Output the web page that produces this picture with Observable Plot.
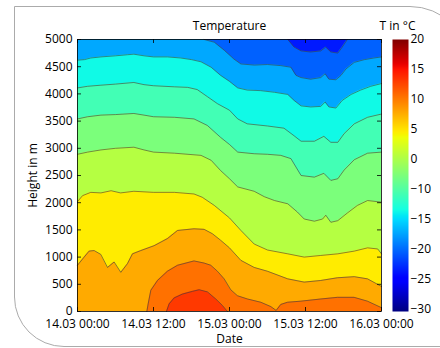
<!DOCTYPE html>
<html><head><meta charset="utf-8">
<script src="https://cdn.jsdelivr.net/npm/d3@7"></script>
<script src="https://cdn.jsdelivr.net/npm/@observablehq/plot@0.6"></script>
<style>
body{margin:0;background:#fff;}
#wrap{position:relative;width:440px;height:348px;overflow:hidden;font-family:"Open Sans",sans-serif;}
#card{position:absolute;left:14px;top:6px;width:456px;height:341px;box-sizing:border-box;border:1.5px solid #ababab;border-radius:0 60px 0 50px;}
#main,#cbar{position:absolute;top:0;}
#main{left:0}
#cbar{left:380px}
</style></head><body>
<div id="wrap"><div id="card"></div><div id="main"></div><div id="cbar"></div></div>
<script>
// ---- data ----
const title = "Temperature";
const xLabel = "Date";
const yLabel = "Height in m";
const cbTitle = "T in °C";
const xTickHours = [0, 12, 24, 36, 48];
const yTicks = [0, 500, 1000, 1500, 2000, 2500, 3000, 3500, 4000, 4500, 5000];
const cbLabels = ["20", "15", "10", "5", "0", "−10", "−15", "−20", "−25", "−30"];
const cbDomain = [-30, 20];
// fill temperature of each band, coldest (top) to warmest (bottom)
const bandTemps = [-22.5, -19, -15.5, -11.5, -8.5, -5, -1.5, 3, 6.5, 9.5, 12.5];
// isolines: [hours since 14.03 00:00, height in m]
const iso0 = [[33.2,5000],[34.2,4860],[35.3,4790],[36.8,4770],[38.4,4790],[39.2,4860],[40.0,4770],[41.1,4750],[41.8,4860],[42.6,5000]];
const iso1 = [[20.0,5000],[21.6,4950],[23.2,4800],[24.7,4640],[25.8,4550],[27.9,4530],[30.0,4540],[32.1,4520],[33.7,4490],[34.5,4340],[35.3,4300],[36.8,4270],[38.4,4300],[39.1,4370],[39.7,4270],[40.8,4260],[41.6,4340],[42.4,4460],[43.7,4580],[45.3,4630],[46.8,4660],[48,4680]];
const iso2 = [[0,4620],[1.1,4630],[2.1,4660],[3.7,4680],[6,4700],[7.9,4720],[8.9,4730],[10.5,4700],[12,4680],[14.2,4680],[16.3,4660],[18,4630],[19.5,4590],[21.1,4490],[22.6,4340],[24,4230],[25.3,4110],[26.8,4070],[28.9,4060],[31.1,4030],[33.2,3990],[34.2,3880],[35.3,3780],[36.8,3760],[38.4,3770],[39.1,3850],[39.7,3760],[40.8,3740],[41.8,3880],[43.2,3990],[44.7,4070],[46.3,4140],[48,4190]];
const iso3 = [[0,4110],[1.6,4140],[3.7,4160],[6,4180],[8.9,4210],[10.5,4170],[12,4150],[15.3,4130],[17.4,4120],[18.9,4080],[20.5,3950],[22.1,3820],[24,3700],[25.3,3540],[26.8,3450],[30,3410],[32.6,3370],[34.2,3230],[35.3,3130],[37.4,3130],[38.9,3220],[40,3110],[41.1,3110],[42.1,3270],[43.7,3450],[45.8,3570],[48,3630]];
const iso4 = [[0,3540],[1.6,3580],[3.7,3610],[6,3620],[8.9,3640],[10.5,3610],[12,3580],[15.3,3570],[18.4,3540],[20.5,3420],[22.6,3200],[24,3070],[25.3,2930],[27.9,2900],[30,2890],[32.1,2870],[33.7,2810],[35.3,2500],[37.4,2470],[38.9,2540],[40,2410],[41.1,2440],[42.1,2600],[43.7,2790],[45.8,2910],[48,2930]];
const iso5 = [[0,2890],[1.6,2930],[3.7,2970],[6,3000],[8.9,3020],[10.5,2970],[12,2930],[15.3,2910],[19.5,2870],[21.1,2780],[22.6,2590],[24,2440],[25.3,2290],[27.9,2210],[29.5,2110],[31.1,2040],[33.2,1980],[34.7,1830],[35.8,1700],[37.4,1660],[38.7,1700],[39.2,1770],[40,1640],[41.1,1670],[42.6,1810],[44.2,1950],[45.8,2040],[48,2010]];
const iso6 = [[0,2020],[0.8,2130],[2.1,2190],[3.7,2180],[5.3,2220],[6.8,2180],[8.9,2210],[12,2190],[15.3,2190],[18.4,2160],[19.7,2100],[21.6,1950],[24,1720],[25.8,1490],[27.9,1240],[30,1130],[33.2,1060],[35.8,1000],[38.4,1030],[41.1,1060],[43.7,1110],[45.8,1170],[47.4,1150],[48,1060]];
const iso7 = [[0,850],[1.05,1000],[1.84,1110],[2.63,1120],[3.68,1050],[4.74,810],[5.79,910],[6.84,720],[7.89,880],[8.68,1060],[10,1120],[12.1,1210],[14.2,1340],[15.8,1490],[18.4,1520],[20,1510],[21.3,1430],[22.6,1310],[24,1170],[25.8,940],[27.9,810],[30,740],[33.2,600],[35.8,540],[38.4,570],[41.05,620],[43.7,640],[45.8,600],[48,460]];
const iso8 = [[10.95,0],[11.16,140],[11.58,390],[12.63,570],[14.2,740],[15.8,850],[18.4,930],[20,890],[21.05,850],[22.1,740],[23.16,600],[24.2,400],[25.26,290],[26.84,230],[28.95,170],[30.53,90],[31.37,20],[32.1,130],[33.16,170],[35.26,190],[38.42,230],[41.05,260],[43.68,260],[45.79,190],[48,70]];
const iso9 = [[14.05,0],[14.47,140],[15.26,250],[16.58,320],[18.16,370],[19.21,400],[20.53,360],[21.84,230],[22.89,110],[23.68,0]];

// ---- helpers ----
const start = Date.UTC(2013, 2, 14);
const toDate = h => new Date(start + h * 3600e3);
const rows = arr => arr.map(([h, m]) => ({date: toDate(h), h: m}));
const x0 = toDate(xTickHours[0]), x1 = toDate(xTickHours[xTickHours.length - 1]);
const yMax = yTicks[yTicks.length - 1], yMin = yTicks[0];
const xTickDates = xTickHours.map(toDate);

function seg(pts, t) {
  for (let i = 1; i < pts.length; i++) {
    if (t <= pts[i][0]) {
      const [a, va] = pts[i - 1], [b, vb] = pts[i];
      return va + (vb - va) * (t - a) / (b - a);
    }
  }
  return pts[pts.length - 1][1];
}
function jet(t) {
  t = Math.max(0, Math.min(1, t));
  const r = seg([[0,0],[0.35,0],[0.66,1],[0.89,1],[1,0.5]], t);
  const g = seg([[0,0],[0.125,0],[0.375,1],[0.64,1],[0.91,0],[1,0]], t);
  const b = seg([[0,0.5],[0.11,1],[0.34,1],[0.65,0],[1,0]], t);
  return d3.rgb(r * 255, g * 255, b * 255).formatHex();
}
const colorOpts = {type: "linear", domain: cbDomain, interpolate: jet};

// plot geometry (style)
const W = 440, H = 348, mL = 77, mR = 59, mT = 39, mB = 37;
const tickPx = 4;
const tickY = tickPx * (yMax - yMin) / (H - mT - mB);
const tickX = tickPx * (x1 - x0) / (W - mL - mR);

const lineStyle = {x: "date", y: "h", stroke: "#3c3c3c", strokeWidth: 0.7, strokeOpacity: 0.85};
const warm = [iso2, iso3, iso4, iso5, iso6, iso7, iso8, iso9];

const main = Plot.plot({
  width: W, height: H,
  marginLeft: mL, marginRight: mR, marginTop: mT, marginBottom: mB,
  x: {type: "utc", domain: [x0, x1]},
  y: {domain: [yMin, yMax]},
  color: colorOpts,
  style: {fontFamily: "'Open Sans', sans-serif", fontSize: "12px", color: "#000", background: "transparent", overflow: "visible"},
  marks: [
    Plot.rect([bandTemps[2]], {x1: () => x0, x2: () => x1, y1: () => yMin, y2: () => yMax, fill: d => d}),
    Plot.areaY(rows(iso1), {x: "date", y1: "h", y2: () => yMax, fill: () => bandTemps[1]}),
    Plot.areaY(rows(iso0), {x: "date", y1: "h", y2: () => yMax, fill: () => bandTemps[0]}),
    ...warm.map((iso, i) => Plot.areaY(rows(iso), {x: "date", y1: () => yMin, y2: "h", fill: () => bandTemps[i + 3]})),
    ...[iso0, iso1, ...warm].map(iso => Plot.line(rows(iso), lineStyle)),
    Plot.ruleX(xTickDates, {x: d => d, y1: () => yMin, y2: () => yMin + tickY, stroke: "#000", strokeWidth: 0.8}),
    Plot.ruleX(xTickDates, {x: d => d, y1: () => yMax - tickY, y2: () => yMax, stroke: "#000", strokeWidth: 0.8}),
    Plot.ruleY(yTicks, {y: d => d, x1: () => x0, x2: () => new Date(+x0 + tickX), stroke: "#000", strokeWidth: 0.8}),
    Plot.ruleY(yTicks, {y: d => d, x1: () => new Date(+x1 - tickX), x2: () => x1, stroke: "#000", strokeWidth: 0.8}),
    Plot.frame({stroke: "#000", strokeWidth: 0.8}),
    Plot.axisX({ticks: xTickDates, tickFormat: d3.utcFormat("%d.%m %H:%M"), tickSize: 0, tickPadding: 8,
      label: xLabel, labelAnchor: "center", labelArrow: "none", labelOffset: 31}),
    Plot.axisY({ticks: yTicks, tickFormat: d => String(d), tickSize: 0, tickPadding: 5,
      label: yLabel, labelAnchor: "center", labelArrow: "none", labelOffset: 49}),
    Plot.text([title], {frameAnchor: "top", dy: -18, text: d => d, fontSize: 12})
  ]
});
document.getElementById("main").appendChild(main);

// colorbar
const cbW = 60, cbL = 12, cbBarW = 16;
const cbPos = cbLabels.map((_, i) => cbDomain[1] - i * (cbDomain[1] - cbDomain[0] - 0.5) / (cbLabels.length - 1));
const cbar = Plot.plot({
  width: cbW, height: H,
  marginLeft: cbL, marginRight: cbW - cbL - cbBarW, marginTop: mT, marginBottom: mB,
  x: {domain: [0, 1], axis: null},
  y: {domain: cbDomain},
  color: colorOpts,
  style: {fontFamily: "'Open Sans', sans-serif", fontSize: "12px", color: "#000", background: "transparent", overflow: "visible"},
  marks: [
    Plot.raster({x1: 0, x2: 1, y1: cbDomain[0], y2: cbDomain[1], width: 1, height: H - mT - mB, fill: (x, y) => y, imageRendering: "auto"}),
    Plot.axisY({anchor: "right", ticks: cbPos, tickFormat: (d, i) => cbLabels[i], tickSize: 0, tickPadding: 2, label: null}),
    Plot.text([cbTitle], {frameAnchor: "top", dy: -18, dx: -3, text: d => d, fontSize: 12})
  ]
});
document.getElementById("cbar").appendChild(cbar);
</script>
</body></html>
